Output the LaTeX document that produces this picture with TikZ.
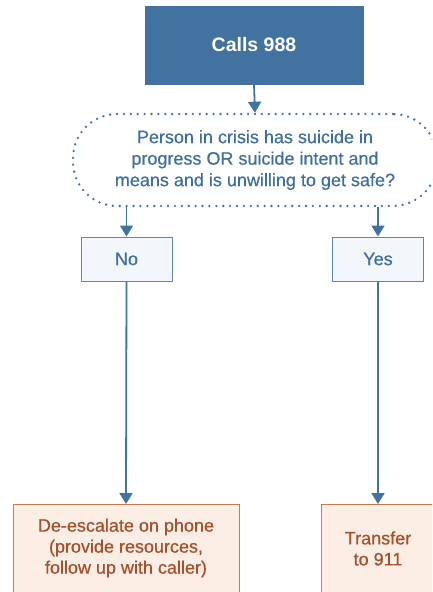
\documentclass[tikz,border=0pt]{standalone}
\usepackage{fontspec}
\setmainfont{Liberation Sans}
\newfontfamily\medfont[FakeBold=0.6]{Liberation Sans}
\usetikzlibrary{arrows.meta}
\definecolor{dblue}{HTML}{4272A0}
\definecolor{lblue}{HTML}{F3F7FC}
\definecolor{tblue}{HTML}{3F6F9F}
\definecolor{ofill}{HTML}{FDEEE5}
\definecolor{odraw}{HTML}{C47A55}
\definecolor{otext}{HTML}{A4512C}
\begin{document}
\begin{tikzpicture}[x=1pt,y=-1pt,
  tipA/.tip={Triangle[width=13pt,length=11pt]},
  conn/.style={draw=dblue,fill=dblue,line width=1.8pt,-tipA},
  startbox/.style={fill=dblue,draw=dblue,text=white,font=\fontsize{19.5}{23}\selectfont\bfseries,minimum width=218pt,minimum height=78pt,inner sep=0pt},
  decbox/.style={draw=dblue,line width=2.6pt,dash pattern=on 0pt off 6.9pt,line cap=round,rounded corners=44pt,minimum width=364pt,minimum height=92pt,text=tblue,align=center,font=\medfont\fontsize{18}{21.5}\selectfont,inner sep=0pt},
  ansbox/.style={fill=lblue,draw=dblue!85,line width=1pt,text=tblue,font=\medfont\fontsize{18}{21}\selectfont,minimum width=91pt,minimum height=44pt,inner sep=0pt},
  actbox/.style={fill=ofill,draw=odraw,line width=1pt,inner sep=0pt,anchor=north},
  acttext/.style={text=otext,align=center,font=\medfont\fontsize{18}{21}\selectfont},
]
\useasboundingbox (0,0) rectangle (432,592);
\begin{scope}
\clip (0,0) rectangle (432,592);
\node[startbox] (calls) at (254,45) {Calls 988};
\node[decbox] (dec) at (255,160) {Person in crisis has suicide in\\progress OR suicide intent and\\means and is unwilling to get safe?};
\node[ansbox] (no) at (126.5,259) {No};
\node[ansbox] (yes) at (378,259) {Yes};
\node[actbox,minimum width=226pt,minimum height=100pt] (deesc) at (126,504) {};
\node[acttext] (deesct) at (126,548) {De-escalate on phone\\(provide resources,\\follow up with caller)};
\node[actbox,minimum width=114pt,minimum height=100pt] (trans) at (378,504) {};
\node[acttext] (transt) at (378,548.5) {Transfer\\to 911};
\draw[conn] (calls.south) -- (dec.north);
\draw[conn] (dec.south -| no.north) -- (no.north);
\draw[conn] (dec.south -| yes.north) -- (yes.north);
\draw[conn] (no.south) -- (deesc.north);
\draw[conn] (yes.south) -- (trans.north);
\end{scope}
\end{tikzpicture}
\end{document}
